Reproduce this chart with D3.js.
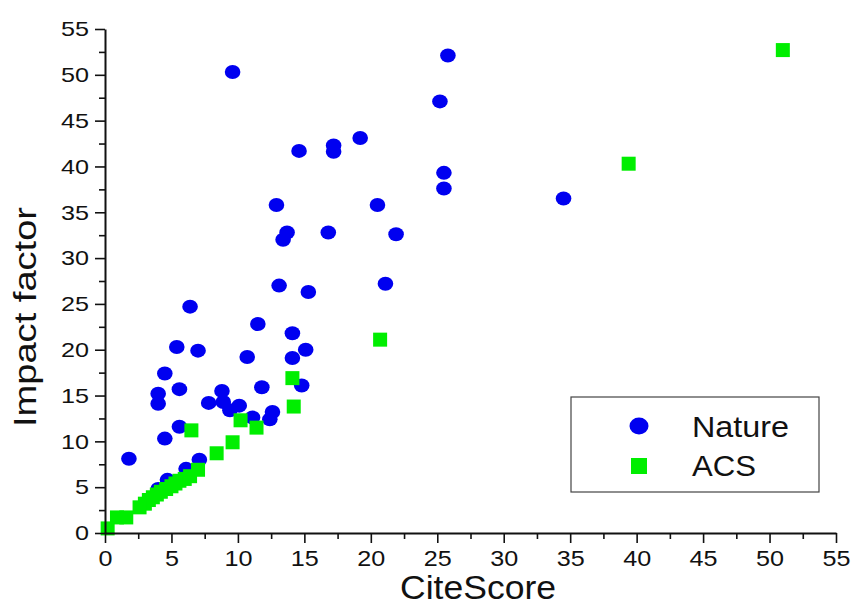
<!DOCTYPE html>
<html>
<head>
<meta charset="utf-8">
<script src="https://cdn.jsdelivr.net/npm/d3@7"></script>
<style>
  html, body { margin: 0; padding: 0; background: #fff; }
  svg { display: block; font-family: "Liberation Sans", Arial, sans-serif; }
</style>
</head>
<body>
<svg id="chart" width="852" height="606"></svg>
<script>
// ---- data ----
const natureX = [9.6, 25.8, 25.2, 19.2, 17.2, 17.2, 14.6, 25.5, 25.5, 34.5,
  12.9, 20.5, 13.7, 13.4, 16.8, 21.9, 13.1, 21.1, 15.3, 6.4,
  11.5, 14.1, 5.4, 7.0, 10.7, 15.1, 14.1, 4.5, 5.6, 4.0,
  4.0, 11.8, 14.8, 8.8, 7.8, 8.9, 9.4, 10.1, 12.6, 12.4,
  11.1, 5.6, 4.5, 1.8, 7.1, 6.1, 4.0, 4.7];
const natureY = [50.3, 52.1, 47.1, 43.1, 42.3, 41.6, 41.7, 39.3, 37.6, 36.5,
  35.8, 35.8, 32.8, 32.0, 32.8, 32.6, 27.0, 27.2, 26.3, 24.7,
  22.8, 21.8, 20.3, 19.9, 19.2, 20.0, 19.1, 17.4, 15.7, 15.2,
  14.1, 15.9, 16.1, 15.5, 14.2, 14.3, 13.4, 13.9, 13.2, 12.4,
  12.6, 11.6, 10.3, 8.1, 8.0, 7.0, 4.8, 5.8];
const acsX = [51.0, 39.4, 20.7, 14.1, 14.2, 10.2, 11.4, 6.5, 9.6, 8.4,
  7.0, 6.4, 6.0, 5.6, 5.3, 5.0, 4.6, 4.2, 3.9, 3.6,
  3.3, 3.0, 2.6, 1.6, 0.9, 0.2];
const acsY = [52.7, 40.3, 21.1, 16.9, 13.8, 12.3, 11.5, 11.2, 9.9, 8.7,
  6.9, 6.2, 5.9, 5.7, 5.4, 5.1, 4.8, 4.5, 4.2, 3.9,
  3.6, 3.2, 2.8, 1.7, 1.7, 0.5];
const tickValues = [0, 5, 10, 15, 20, 25, 30, 35, 40, 45, 50, 55];
const minorTicks = d3.range(2.5, 55, 5);
const seriesNames = ["Nature", "ACS"];
const xTitle = "CiteScore";
const yTitle = "Impact factor";

// ---- chart ----
const svg = d3.select("#chart");
const x = d3.scaleLinear().domain([0, 55]).range([105, 836]);
const y = d3.scaleLinear().domain([0, 55]).range([533, 29]);
const blue = "#0000f0", green = "#00ee00";

const nature = natureX.map((v, i) => ({x: v, y: natureY[i]}));
const acs = acsX.map((v, i) => ({x: v, y: acsY[i]}));

svg.append("g").selectAll("ellipse").data(nature).join("ellipse")
  .attr("cx", d => x(d.x)).attr("cy", d => y(d.y))
  .attr("rx", 7.8).attr("ry", 7).attr("fill", blue);

const sq = 14;
svg.append("g").selectAll("rect").data(acs).join("rect")
  .attr("x", d => x(d.x) - sq / 2).attr("y", d => y(d.y) - sq / 2)
  .attr("width", sq).attr("height", sq).attr("fill", green);

// axes
const xAxis = svg.append("g").attr("transform", `translate(0,${y(0)})`)
  .call(d3.axisBottom(x).tickValues(tickValues).tickSize(10).tickSizeOuter(0).tickPadding(7));
const xMinor = svg.append("g").attr("transform", `translate(0,${y(0)})`)
  .call(d3.axisBottom(x).tickValues(minorTicks).tickSize(6).tickFormat(""));
const yAxis = svg.append("g").attr("transform", `translate(${x(0)},0)`)
  .call(d3.axisLeft(y).tickValues(tickValues).tickSize(10).tickSizeOuter(0).tickPadding(6));
const yMinor = svg.append("g").attr("transform", `translate(${x(0)},0)`)
  .call(d3.axisLeft(y).tickValues(minorTicks).tickSize(6).tickFormat(""));

[xAxis, yAxis, xMinor, yMinor].forEach(g => {
  g.select(".domain").attr("stroke", "#111").attr("stroke-width", 2);
  g.selectAll(".tick line").attr("stroke", "#111").attr("stroke-width", 1.6);
  g.selectAll(".tick text").attr("fill", "#111")
    .style("font-family", "Liberation Sans, Arial, sans-serif");
});
xAxis.selectAll(".tick text").style("font-size", "22px")
  .attr("textLength", d => String(d).length * 14).attr("lengthAdjust", "spacingAndGlyphs");
yAxis.selectAll(".tick text").style("font-size", "21px")
  .attr("textLength", d => String(d).length * 14).attr("lengthAdjust", "spacingAndGlyphs");
xMinor.select(".domain").remove();
yMinor.select(".domain").remove();

// axis titles
svg.append("text").attr("x", 478).attr("y", 599).attr("text-anchor", "middle")
  .attr("fill", "#111").style("font-size", "33px")
  .attr("textLength", 156).attr("lengthAdjust", "spacingAndGlyphs").text(xTitle);
svg.append("text").attr("transform", "translate(36,317) rotate(-90)")
  .attr("text-anchor", "middle").attr("fill", "#111").style("font-size", "32px")
  .attr("textLength", 220).attr("lengthAdjust", "spacingAndGlyphs").text(yTitle);

// legend
const lg = svg.append("g");
lg.append("rect").attr("x", 571).attr("y", 397).attr("width", 248).attr("height", 95)
  .attr("fill", "#fff").attr("stroke", "#444").attr("stroke-width", 1.2);
lg.append("ellipse").attr("cx", 639).attr("cy", 426).attr("rx", 9.5).attr("ry", 8.5).attr("fill", blue);
lg.append("rect").attr("x", 631).attr("y", 458).attr("width", 16).attr("height", 16).attr("fill", green);
lg.selectAll("text.lab").data(seriesNames).join("text").attr("class", "lab")
  .attr("x", 692).attr("y", (d, i) => 437 + i * 39)
  .attr("fill", "#111").style("font-size", "29px")
  .attr("textLength", d => d === "Nature" ? 97 : 64).attr("lengthAdjust", "spacingAndGlyphs")
  .text(d => d);
</script>
</body>
</html>
